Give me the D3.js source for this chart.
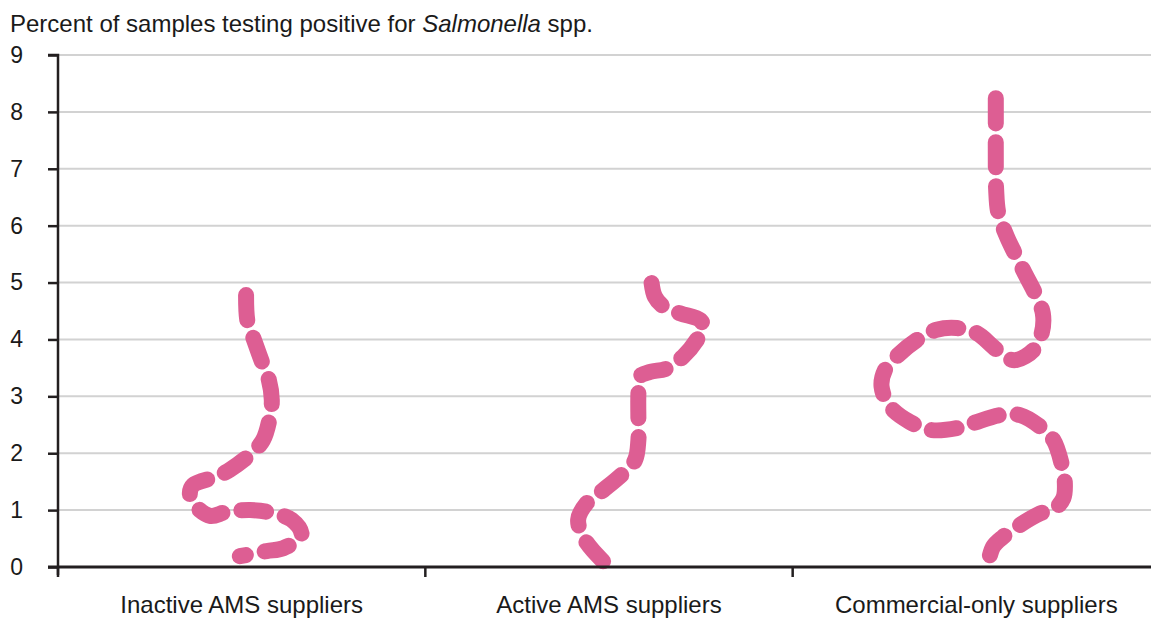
<!DOCTYPE html>
<html lang="en">
<head>
<meta charset="UTF-8">
<title>Salmonella samples</title>
<script src="https://cdn.jsdelivr.net/npm/d3@7"></script>
<style>
  body { margin: 0; background: #fff; }
  svg text { font-family: "Liberation Sans", Arial, Helvetica, sans-serif; fill: #1a1a1a; }
</style>
</head>
<body>
<div id="chart"></div>
<script>
// Categories along the x axis
var categories = ["Inactive AMS suppliers", "Active AMS suppliers", "Commercial-only suppliers"];
var yTicks = [0, 1, 2, 3, 4, 5, 6, 7, 8, 9];

// Each "worm": [x position in category units (0-3), percent]
var inactiveWorm = [
  [0.512, 4.78], [0.516, 4.31], [0.531, 4.04], [0.555, 3.61], [0.572, 3.34],
  [0.582, 2.94], [0.577, 2.64], [0.558, 2.23], [0.527, 2.00], [0.468, 1.71],
  [0.432, 1.59], [0.368, 1.44], [0.359, 1.30], [0.368, 1.12], [0.414, 0.90],
  [0.459, 0.97], [0.523, 1.00], [0.568, 0.97], [0.636, 0.83], [0.663, 0.55],
  [0.613, 0.33], [0.568, 0.28], [0.495, 0.19]
];
var activeWorm = [
  [1.616, 4.99], [1.625, 4.75], [1.648, 4.58], [1.693, 4.46], [1.748, 4.34],
  [1.757, 4.22], [1.739, 3.99], [1.702, 3.70], [1.657, 3.49], [1.612, 3.43],
  [1.584, 3.35], [1.580, 3.05], [1.580, 2.58], [1.580, 2.23], [1.571, 1.88],
  [1.539, 1.65], [1.484, 1.35], [1.439, 1.12], [1.416, 0.83], [1.435, 0.47],
  [1.484, 0.10]
];
var commercialWorm = [
  [2.553, 8.24], [2.553, 7.74], [2.553, 7.04], [2.554, 6.63], [2.560, 6.22],
  [2.583, 5.81], [2.605, 5.51], [2.632, 5.16], [2.660, 4.81], [2.681, 4.46],
  [2.678, 4.11], [2.655, 3.81], [2.610, 3.64], [2.583, 3.67], [2.546, 3.87],
  [2.501, 4.11], [2.447, 4.20], [2.392, 4.17], [2.338, 3.99], [2.283, 3.70],
  [2.251, 3.46], [2.242, 3.17], [2.265, 2.82], [2.319, 2.55], [2.374, 2.41],
  [2.447, 2.44], [2.492, 2.53], [2.564, 2.67], [2.619, 2.67], [2.673, 2.47],
  [2.710, 2.23], [2.732, 1.82], [2.741, 1.47], [2.737, 1.21], [2.714, 1.03],
  [2.673, 0.94], [2.619, 0.74], [2.573, 0.53], [2.546, 0.36], [2.533, 0.10]
];
var worms = [inactiveWorm, activeWorm, commercialWorm];

// Figure size and plot edges
var w = 1151;
var h = 619;
var plotLeft = 58, plotRight = 1160, plotTop = 55, plotBottom = 567;

var svg = d3.select("#chart").append("svg")
  .attr("width", w)
  .attr("height", h);

// Scales
var xScale = d3.scaleLinear().domain([0, 3]).range([plotLeft, plotRight]);
var xBand = d3.scaleBand().domain(categories).range([plotLeft, plotRight]);
var yScale = d3.scaleLinear().domain([0, 9]).range([plotBottom, plotTop]);

// Title
var title = svg.append("text")
  .attr("x", 10)
  .attr("y", 32)
  .style("font-size", "24px");
title.append("tspan").text("Percent of samples testing positive for ");
title.append("tspan").style("font-style", "italic").text("Salmonella");
title.append("tspan").text(" spp.");

// Gridlines
svg.append("g")
  .selectAll("line")
  .data(yTicks.filter(function(d) { return d > 0; }))
  .enter()
  .append("line")
  .attr("x1", plotLeft)
  .attr("x2", w)
  .attr("y1", function(d) { return yScale(d); })
  .attr("y2", function(d) { return yScale(d); })
  .attr("stroke", "#d2d2d2")
  .attr("stroke-width", 2);

// Worms
var line = d3.line()
  .x(function(d) { return xScale(d[0]); })
  .y(function(d) { return yScale(d[1]); })
  .curve(d3.curveCatmullRom.alpha(0.5));

svg.append("g")
  .selectAll("path")
  .data(worms)
  .enter()
  .append("path")
  .attr("d", line)
  .attr("fill", "none")
  .attr("stroke", "#dd5e93")
  .attr("stroke-width", 16)
  .attr("stroke-linecap", "round")
  .attr("stroke-dasharray", "25,19");

// Y axis
var yAxis = svg.append("g")
  .attr("transform", "translate(" + plotLeft + ",0)")
  .call(d3.axisLeft(yScale).tickValues(yTicks).tickSize(10).tickPadding(25));
yAxis.select(".domain")
  .attr("stroke", "#231f20")
  .attr("stroke-width", 2.5)
  .attr("d", "M-10," + plotTop + "H0V" + (plotBottom + 8));
yAxis.selectAll(".tick line").attr("stroke", "#231f20").attr("stroke-width", 2.5);
yAxis.selectAll(".tick text")
  .style("font-size", "23px")
  .attr("fill", "#1a1a1a");

// X axis line
svg.append("line")
  .attr("x1", plotLeft - 10)
  .attr("x2", w)
  .attr("y1", plotBottom)
  .attr("y2", plotBottom)
  .attr("stroke", "#231f20")
  .attr("stroke-width", 3);

// X ticks at category boundaries
svg.append("g")
  .selectAll("line")
  .data(categories)
  .enter()
  .append("line")
  .attr("x1", function(d) { return xBand(d); })
  .attr("x2", function(d) { return xBand(d); })
  .attr("y1", plotBottom)
  .attr("y2", plotBottom + 10)
  .attr("stroke", "#231f20")
  .attr("stroke-width", 2.5);

// Category labels
svg.append("g")
  .selectAll("text")
  .data(categories)
  .enter()
  .append("text")
  .attr("x", function(d) { return xBand(d) + xBand.bandwidth() / 2; })
  .attr("y", 613)
  .attr("text-anchor", "middle")
  .style("font-size", "24px")
  .text(function(d) { return d; });
</script>
</body>
</html>
